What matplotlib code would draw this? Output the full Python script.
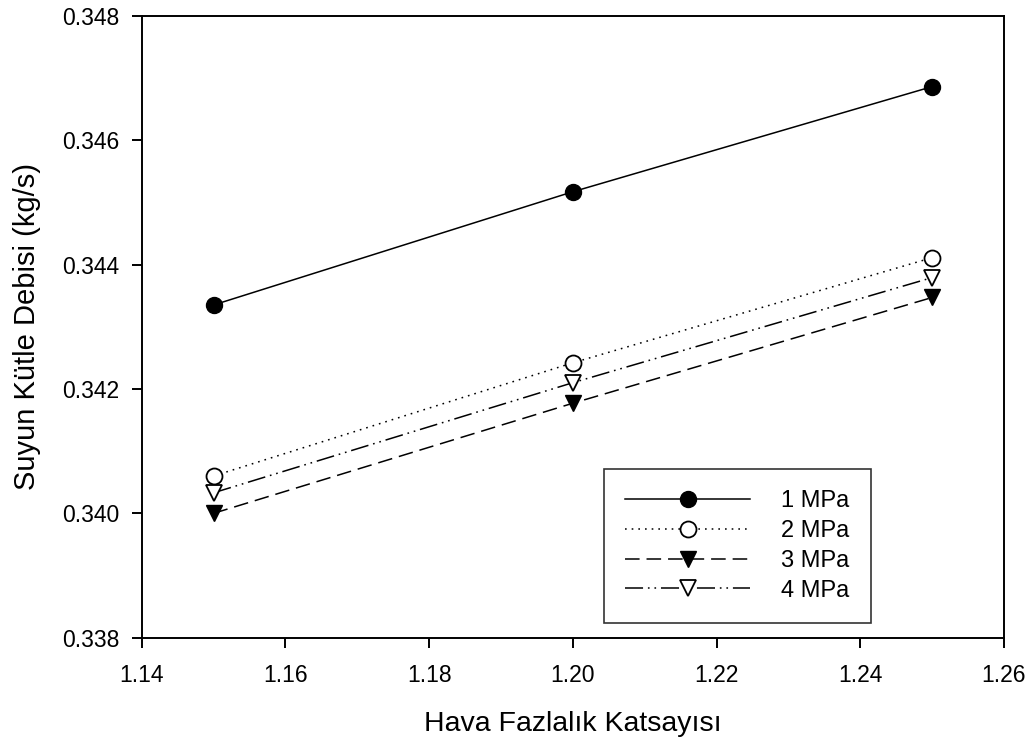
# Mass flow rate of water versus excess air coefficient, for four pressures
# Draws a line chart and saves it to out.png

import matplotlib
matplotlib.use("Agg")
import matplotlib.pyplot as plt


# First step: the data

hava_fazlalik = [1.15, 1.20, 1.25]          # excess air coefficient (x)

debi_1mpa = [0.34335, 0.34517, 0.34686]     # kg/s
debi_2mpa = [0.34060, 0.34242, 0.34411]
debi_3mpa = [0.34000, 0.34177, 0.34347]
debi_4mpa = [0.34033, 0.34210, 0.34379]

seri_adlari = ["1 MPa", "2 MPa", "3 MPa", "4 MPa"]

x_ticks = [1.14, 1.16, 1.18, 1.20, 1.22, 1.24, 1.26]
y_ticks = [0.338, 0.340, 0.342, 0.344, 0.346, 0.348]


# Second step: general look (Arial-like font, black lines)

plt.rcParams['font.family'] = ['Liberation Sans', 'DejaVu Sans']
plt.rcParams['lines.scale_dashes'] = False


def draw_chart():
    fig = plt.figure(figsize=(10.36, 7.45), dpi=100)
    ax = fig.add_axes([0.1368, 0.1440, 0.8323, 0.8349])

    # line styles: solid, dotted, dashed, dash-dot-dot
    ax.plot(hava_fazlalik, debi_1mpa, color='black', lw=1.1, linestyle='-',
            marker='o', markersize=11.5, markerfacecolor='black', markeredgecolor='black',
            label=seri_adlari[0])
    ax.plot(hava_fazlalik, debi_2mpa, color='black', lw=1.1, linestyle=(0, (1.2, 3.6)),
            marker='o', markersize=11.5, markerfacecolor='white', markeredgecolor='black',
            markeredgewidth=1.3, label=seri_adlari[1])
    ax.plot(hava_fazlalik, debi_3mpa, color='black', lw=1.1, linestyle=(0, (10.5, 5)),
            marker='v', markersize=11.5, markerfacecolor='black', markeredgecolor='black',
            label=seri_adlari[2])
    ax.plot(hava_fazlalik, debi_4mpa, color='black', lw=1.1,
            linestyle=(0, (13, 3.5, 1.2, 3.5, 1.2, 3.5)),
            marker='v', markersize=11.5, markerfacecolor='white', markeredgecolor='black',
            markeredgewidth=1.3, label=seri_adlari[3])

    ax.set_xlim(1.14, 1.26)
    ax.set_ylim(0.338, 0.348)
    ax.set_xticks(x_ticks)
    ax.set_yticks(y_ticks)
    ax.set_xticklabels(["%.2f" % v for v in x_ticks])
    ax.set_yticklabels(["%.3f" % v for v in y_ticks])

    for s in ax.spines.values():
        s.set_linewidth(1.4)
    ax.tick_params(axis='both', direction='out', length=7.2, width=1.4, labelsize=16.5)
    ax.tick_params(axis='x', pad=12)
    ax.tick_params(axis='y', pad=9)

    ax.set_xlabel("Hava Fazlalık Katsayısı", fontsize=20.5, labelpad=17)
    ax.set_ylabel("Suyun Kütle Debisi (kg/s)", fontsize=21, labelpad=15)

    # legend box placed in figure pixel coordinates
    leg = ax.legend(loc='upper left', bbox_to_anchor=(604 / 1036, 1 - 469 / 745),
                    bbox_transform=fig.transFigure, fontsize=17, frameon=True,
                    fancybox=False, shadow=False, handlelength=5.3, handletextpad=1.3,
                    borderpad=0.9, labelspacing=0.33, borderaxespad=0)
    leg.get_frame().set_edgecolor('black')
    leg.get_frame().set_linewidth(1.2)

    fig.savefig("out.png", dpi=100)


def main():
    draw_chart()


if __name__ == "__main__":
    main()
